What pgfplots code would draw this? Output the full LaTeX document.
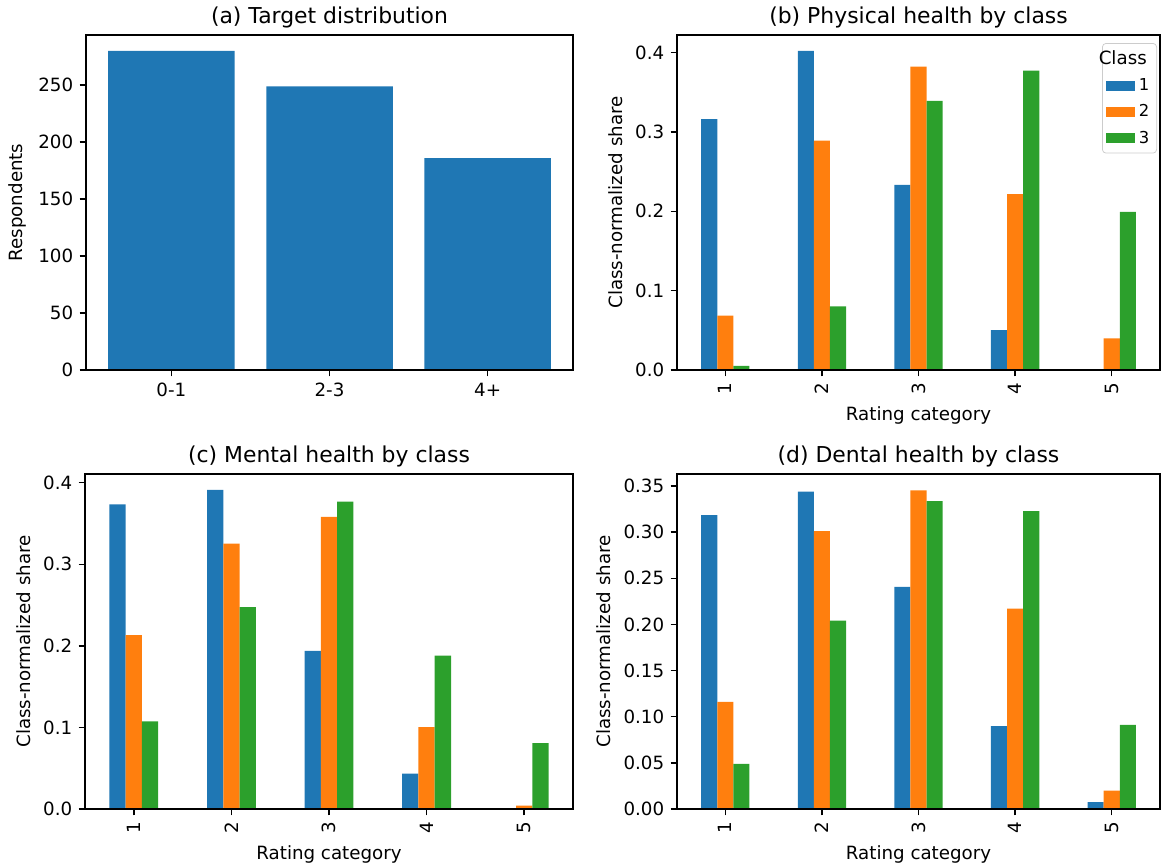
\documentclass[border=0pt]{standalone}
\usepackage{pgfplots}
\pgfplotsset{compat=1.18}
\usepackage{pgfplotstable}
\usepackage{fontspec}
\setmainfont{DejaVu Sans}
\definecolor{tabblue}{HTML}{1F77B4}
\definecolor{taborange}{HTML}{FF7F0E}
\definecolor{tabgreen}{HTML}{2CA02C}

\pgfplotstableread{
x c1 c2 c3
0 0.3160 0.0684 0.0051
1 0.4020 0.2890 0.0802
2 0.2333 0.3823 0.3392
3 0.0502 0.2215 0.3772
4 0.0000 0.0397 0.1992
}\phys
\pgfplotstableread{
x c1 c2 c3
0 0.3734 0.2131 0.1074
1 0.3910 0.3254 0.2475
2 0.1939 0.3582 0.3766
3 0.0434 0.1004 0.1881
4 0.0000 0.0041 0.0807
}\mental
\pgfplotstableread{
x c1 c2 c3
0 0.3185 0.1162 0.0489
1 0.3438 0.3011 0.2041
2 0.2407 0.3453 0.3337
3 0.0898 0.2172 0.3228
4 0.0076 0.0199 0.0912
}\dental

\pgfplotsset{
  mpl/.style={
    scale only axis,
    width=266pt, height=183.58pt,
    anchor=north west,
    axis line style={line width=0.8pt},
    tick align=outside,
    xtick pos=bottom, ytick pos=left,
    major tick length=3.5pt,
    every tick/.style={black, line width=0.8pt},
    tick label style={font=\fontsize{10}{12}\selectfont},
    label style={font=\fontsize{10}{12}\selectfont},
    title style={font=\fontsize{12}{14}\selectfont, yshift=-5.6pt},
    /pgf/number format/assume math mode=true,
    ymin=0,
    axis on top,
    ybar,
  },
  cls/.style={
    mpl,
    xmin=-0.5, xmax=4.5,
    xtick={0,1,2,3,4}, xticklabels={1,2,3,4,5},
    xticklabel style={rotate=90, anchor=east},
    xlabel={Rating category},
    ylabel={Class-normalized share},
    bar width=0.16667,
    yticklabel style={/pgf/number format/.cd, fixed, fixed zerofill, precision=1},
  },
}

\begin{document}
\begin{tikzpicture}
\useasboundingbox (0,0) rectangle (636.23pt,-474.02pt);

% (a)
\begin{axis}[mpl, at={(47.13pt,-19.18pt)}, width=266.88pt,
  title={(a) Target distribution},
  xmin=-0.54, xmax=2.54, ymax=294,
  xtick={0,1,2}, xticklabels={0-1,2-3,4+},
  ytick={0,50,100,150,200,250},
  ylabel={Respondents},
  bar width=0.8]
\addplot[fill=tabblue, draw=none, bar shift=0] coordinates {(0,280) (1,249) (2,186)};
\end{axis}

% (b)
\begin{axis}[cls, at={(371.0pt,-19.18pt)}, width=264.68pt,
  title={(b) Physical health by class},
  ymax=0.4221, ytick={0,0.1,0.2,0.3,0.4},
  legend cell align=left,
  legend image code/.code={\fill[#1, sharp corners] (0pt,-2.8pt) rectangle (16pt,2.8pt);},
  legend style={at={(0.9938,0.976)}, anchor=north east, draw=black!20, rounded corners=2pt,
    fill=white, font=\fontsize{9}{11}\selectfont, inner xsep=2pt, inner ysep=2pt,
    row sep=2.2pt}]
\addlegendimage{empty legend}
\addlegendentry{\hspace*{-22pt}\fontsize{10}{12}\selectfont Class}
\addplot[fill=tabblue, draw=none, bar shift=-0.16667] table[x=x, y=c1] {\phys};
\addlegendentry{1}
\addplot[fill=taborange, draw=none, bar shift=0] table[x=x, y=c2] {\phys};
\addlegendentry{2}
\addplot[fill=tabgreen, draw=none, bar shift=0.16667] table[x=x, y=c3] {\phys};
\addlegendentry{3}
\end{axis}

% (c)
\begin{axis}[cls, at={(46.58pt,-259.75pt)}, width=267.43pt,
  title={(c) Mental health by class},
  ymax=0.4106, ytick={0,0.1,0.2,0.3,0.4}]
\addplot[fill=tabblue, draw=none, bar shift=-0.16667] table[x=x, y=c1] {\mental};
\addplot[fill=taborange, draw=none, bar shift=0] table[x=x, y=c2] {\mental};
\addplot[fill=tabgreen, draw=none, bar shift=0.16667] table[x=x, y=c3] {\mental};
\end{axis}

% (d)
\begin{axis}[cls, at={(371.0pt,-259.75pt)}, width=264.68pt,
  title={(d) Dental health by class},
  ymax=0.3630, ytick={0,0.05,0.1,0.15,0.2,0.25,0.3,0.35},
  yticklabel style={/pgf/number format/.cd, fixed, fixed zerofill, precision=2}]
\addplot[fill=tabblue, draw=none, bar shift=-0.16667] table[x=x, y=c1] {\dental};
\addplot[fill=taborange, draw=none, bar shift=0] table[x=x, y=c2] {\dental};
\addplot[fill=tabgreen, draw=none, bar shift=0.16667] table[x=x, y=c3] {\dental};
\end{axis}
\end{tikzpicture}
\end{document}
